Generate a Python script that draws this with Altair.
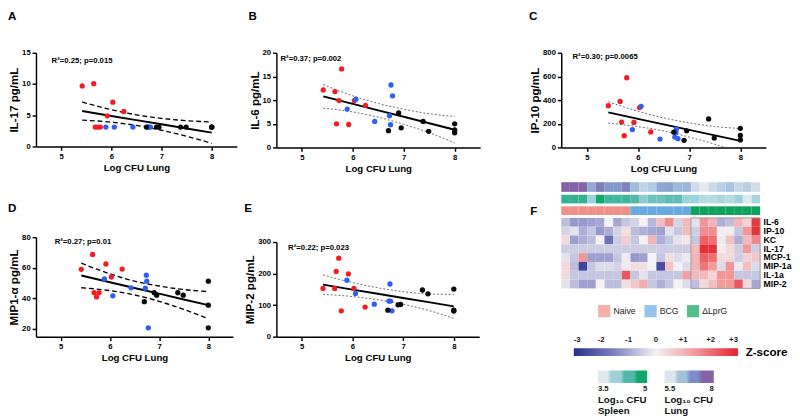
import altair as alt
import pandas as pd

FONT = "Liberation Sans"

# ---------------- scatter data: one entry per mouse ----------------
group = ["ΔLprG"] * 8 + ["BCG"] * 7 + ["Naive"] * 8
log_cfu_lung = [5.42, 5.65, 5.68, 5.73, 5.78, 5.92, 6.03, 6.25,
                5.89, 6.06, 6.43, 6.72, 6.74, 6.75, 6.78,
                6.70, 6.90, 6.95, 7.38, 7.49, 8.00, 8.00, 8.00]
il17 = [9.7, 10.05, 3.1, 3.1, 3.1, 4.9, 7.1, 5.6,
        3.1, 3.1, 3.1, 3.1, 3.1, 3.1, 3.1,
        3.1, 3.1, 3.1, 3.1, 3.1, 3.1, 3.1, 3.1]
il6 = [12.15, 11.8, 5.0, 9.9, 16.6, 4.85, 9.9, 8.9,
       8.1, 10.2, 5.5, 6.7, 4.8, 13.2, 10.9,
       3.55, 7.3, 4.15, 5.5, 3.4, 5.0, 3.7, 3.1]
ip10 = [353, 389, 214, 99, 589, 211, 337, 131,
        151, 348, 71, 88, 129, 156, 74,
        129, 60, 140, 241, 79, 162, 101, 63]
mip1a = [59, 68.75, 43.75, 41, 43.75, 62.5, 54, 59.2,
         52.7, 41.7, 46.9, 46.7, 55.2, 51.25, 20.8,
         37.9, 43.75, 42.1, 43.75, 42.1, 51.25, 35.6, 20.8]
mip2 = [153, 153, 207, 249, 82, 199, 153, 94,
        179, 137, 103, 113, 167, 113, 82,
        84, 101, 102, 148, 136, 151, 84, 81]

# regression line and 95% bands
fit_x = [5.42, 6.0, 6.5, 7.0, 7.5, 8.0]
a_fit = [5.67, 4.89, 4.22, 3.55, 2.88, 2.21]
a_hi = [7.12, 5.89, 5.07, 4.50, 4.13, 3.91]
a_lo = [4.22, 3.89, 3.37, 2.60, 1.63, 0.51]
b_fit = [10.8, 9.2, 7.84, 6.48, 5.12, 3.75]
b_hi = [13.3, 10.9, 9.29, 8.08, 7.12, 6.55]
b_lo = [8.3, 7.5, 6.39, 4.88, 3.12, 0.95]
c_fit = [296, 241, 195, 148, 102, 55]
c_hi = [386, 306, 250, 208, 177, 160]
c_lo = [206, 176, 140, 88, 27, -50]
d_fit = [55, 50.6, 46.8, 43.1, 39.3, 35.6]
d_hi = [63, 56.1, 51.3, 48.1, 45.8, 44.4]
d_lo = [47, 45.1, 42.3, 38.1, 32.8, 26.8]
e_fit = [165, 149.3, 136, 122.7, 109.4, 96]
e_hi = [196, 171.3, 155, 142.7, 135.4, 134]
e_lo = [134, 127.3, 117, 102.7, 83.4, 58]

# ---------------- heatmap data ----------------
hm_group = ["Naive"] * 8 + ["BCG"] * 7 + ["ΔLprG"] * 8
hm_lung = [8.0, 8.0, 8.0, 6.7, 7.5, 7.0, 7.0, 7.4,
           6.4, 5.9, 6.1, 6.75, 6.8, 6.45, 6.5,
           5.7, 5.4, 5.75, 6.0, 6.25, 5.8, 6.0, 5.7]
hm_spleen = [4.7, 4.7, 4.7, 4.0, 5.0, 4.6, 4.6, 4.6,
             4.5, 4.1, 4.3, 4.3, 4.4, 4.4, 4.0,
             4.0, 3.8, 3.8, 3.9, 3.8, 4.0, 3.5, 3.9]
hm_rows = ["IL-6", "IP-10", "KC", "IL-17", "MCP-1", "MIP-1a", "IL-1a", "MIP-2"]
z_il6 = [-0.7, -1.2, -1.2, -1.1, -1.0, 0.0, -1.0, -0.6, -0.4, 0.05, -0.8,
         0.8, 1.6, -0.4, 0.9, -0.2, 1.5, 1.0, -0.9, -0.7, 1.0, 0.5, 2.7]
z_ip10 = [-0.4, -0.2, -0.9, -0.6, -1.2, -0.9, -0.4, 0.3, -0.7, -0.9, -1.0,
          -1.1, -0.2, -0.6, 0.9, -0.5, 1.6, 1.6, 0.1, 0.1, -0.6, 1.5, 2.8]
z_kc = [0.4, -1.1, -0.9, -0.7, 0.0, -1.8, -0.5, 0.6, -0.6, 0.0, 1.0,
        -0.9, -0.6, -0.2, 0.2, -0.6, 2.2, 2.0, -0.1, 0.8, -0.9, 0.9, 1.7]
z_il17 = [-0.5] * 15 + [0.9, 2.8, 2.8, 0.1, 0.4, -0.5, 1.4, -0.5]
z_mcp1 = [-0.2, -0.6, 1.5, -1.1, -1.1, -1.1, -0.6, -0.1, -1.2, -1.1, 0.0,
          -0.6, 0.3, -0.3, -0.1, 1.0, 2.2, 2.0, 0.4, 0.4, -0.5, 0.5, 0.7]
z_mip1a = [0.4, -0.7, -2.6, -0.6, -0.3, -0.3, -0.4, -0.1, 0.3, 0.3, 0.0,
           -2.4, 0.7, 0.0, -0.3, 1.0, 1.9, 1.4, -0.3, 1.5, -0.1, 0.8, -0.3]
z_il1a = [0.4, -0.6, -0.6, -0.6, -0.6, -0.6, -0.6, 2.3, -0.6, -0.2, -0.6,
          -0.6, -0.6, -0.6, 1.3, 0.9, 0.9, 0.5, 1.5, 1.5, -0.6, -0.6, -0.6]
z_mip2 = [-0.2, -0.7, -1.1, -1.1, 0.0, -0.7, -0.7, 0.3, 0.7, 1.1, -0.6,
          -0.9, -0.6, 0.0, -0.3, -0.7, 0.4, 0.8, 1.4, 1.4, 2.3, 0.4, -1.0]
z_values = [z_il6, z_ip10, z_kc, z_il17, z_mcp1, z_mip1a, z_il1a, z_mip2]

group_order = ["Naive", "BCG", "ΔLprG"]
group_colors = ["#ef8f88", "#66abe0", "#0ea35a"]
lung_colors = ["#dde6ee", "#a3c0dd", "#7b8ec6", "#8561a7"]
spleen_colors = ["#dfe9ed", "#9dd2dc", "#4fb8ab", "#0fa76c"]
lung_breaks = [5.5, 6.125, 6.75, 7.375, 8.0]
spleen_breaks = [3.5, 3.875, 4.25, 4.625, 5.0]
z_colors = ["#262e8b", "#7f83c3", "#f4f2f4", "#f19597", "#e2232b"]
dot_colors = ["#f21d24", "#2c5ff2", "#0a0a0a"]


def letter(t, offset, dx=0):
    return alt.TitleParams(t, anchor="start", fontSize=12, fontWeight="bold",
                           font=FONT, color="black", offset=offset, dx=dx)


def panel(yvals, ytitle, ydom, yticks, fit, hi, lo, dashed, r2, r2x, r2y,
          let, toff, w, h):
    pts = pd.DataFrame({"x": log_cfu_lung, "y": yvals, "g": group})
    fdf = pd.DataFrame({"x": fit_x, "fit": fit, "hi": hi, "lo": lo})
    xs = alt.Scale(domain=[4.5, 8.5], nice=False, zero=False)
    ys = alt.Scale(domain=ydom, nice=False, zero=False)
    xax = alt.Axis(values=[5, 6, 7, 8], title="Log CFU Lung")
    yax = alt.Axis(values=yticks, title=ytitle)

    def X(f):
        return alt.X(f, scale=xs, axis=xax)

    def Y(f):
        return alt.Y(f, scale=ys, axis=yax)

    if dashed:
        ci = dict(color="black", strokeWidth=1.4, strokeDash=[5, 3])
    else:
        ci = dict(color="#555555", strokeWidth=0.9, strokeDash=[2, 2])
    hi_l = alt.Chart(fdf).mark_line(interpolate="monotone", clip=True, **ci).encode(x=X("x:Q"), y=Y("hi:Q"))
    lo_l = alt.Chart(fdf).mark_line(interpolate="monotone", clip=True, **ci).encode(x=X("x:Q"), y=Y("lo:Q"))
    fit_l = alt.Chart(fdf).mark_line(color="black", strokeWidth=2).encode(x=X("x:Q"), y=Y("fit:Q"))
    dots = alt.Chart(pts).mark_circle(size=30, opacity=1).encode(
        x=X("x:Q"), y=Y("y:Q"),
        color=alt.Color("g:N", scale=alt.Scale(domain=["ΔLprG", "BCG", "Naive"], range=dot_colors), legend=None))
    txt = alt.Chart(pd.DataFrame({"x": [r2x], "y": [r2y], "t": [r2]})).mark_text(
        align="left", baseline="middle", fontSize=8, fontWeight="bold", color="black", font=FONT
    ).encode(x=X("x:Q"), y=Y("y:Q"), text="t:N")
    return alt.layer(hi_l, lo_l, fit_l, dots, txt).properties(
        width=w, height=h, title=letter(let, toff))


A = panel(il17, "IL-17 pg/mL", [0, 15], [0, 5, 10, 15], a_fit, a_hi, a_lo, True,
          "R²=0.25; p=0.015", 4.81, 13.6, "A", 27, 208, 97)
B = panel(il6, "IL-6 pg/mL", [0, 20], [0, 5, 10, 15, 20], b_fit, b_hi, b_lo, False,
          "R²=0.37; p=0.002", 4.58, 18.6, "B", 27, 211, 98)
C = panel(ip10, "IP-10 pg/mL", [0, 800], [0, 200, 400, 600, 800], c_fit, c_hi, c_lo, False,
          "R²=0.30; p=0.0065", 4.72, 761, "C", 27, 212, 98)
D = panel(mip1a, "MIP1-α pg/mL", [15, 80], [20, 40, 60, 80], d_fit, d_hi, d_lo, True,
          "R²=0.27; p=0.01", 4.88, 76.9, "D", 19, 204, 103)
E = panel(mip2, "MIP-2 pg/mL", [0, 300], [0, 100, 200, 300], e_fit, e_hi, e_lo, False,
          "R²=0.22; p=0.023", 4.73, 280, "E", 24, 210, 98)

# ---------------- heatmap block ----------------
ncol = len(hm_group)
cols_df = pd.DataFrame({"c": list(range(ncol)), "hg": hm_group,
                        "lung": hm_lung, "spleen": hm_spleen})
HX = alt.X("c:Q", scale=alt.Scale(domain=[0, ncol], nice=False, zero=False), axis=None)
HW = 206


def strip(field, scale, h):
    return alt.Chart(cols_df).transform_calculate(c1="datum.c + 1").mark_rect().encode(
        x=HX, x2="c1:Q", color=alt.Color(field, scale=scale, legend=None)
    ).properties(width=HW, height=h)


lung_strip = strip("lung:Q", alt.Scale(domain=[5.5, 6.33, 7.17, 8], range=lung_colors, interpolate="rgb"), 10)
spleen_strip = strip("spleen:Q", alt.Scale(domain=[3.5, 4.0, 4.5, 5.0], range=spleen_colors, interpolate="rgb"), 9)
group_strip = strip("hg:N", alt.Scale(domain=group_order, range=group_colors), 9)

hm_records = []
for r, vals in zip(hm_rows, z_values):
    for i, v in enumerate(vals):
        hm_records.append({"cyt": r, "c": i, "z": v, "hg": hm_group[i]})
hm_df = pd.DataFrame(hm_records)
z_scale = alt.Scale(domain=[-3, -1.5, 0, 1.5, 3], range=z_colors, interpolate="rgb", clamp=True)

cells = alt.Chart(hm_df).transform_calculate(c1="datum.c + 1").mark_rect().encode(
    x=HX, x2="c1:Q",
    y=alt.Y("cyt:N", sort=hm_rows, scale=alt.Scale(paddingInner=0, paddingOuter=0),
            axis=alt.Axis(orient="right", title=None, ticks=False, domain=False,
                          labelFontSize=9, labelPadding=3, labelFontWeight="bold")),
    color=alt.Color("z:Q", scale=z_scale, legend=None))
box = alt.Chart(hm_df).transform_filter(alt.datum.hg == "ΔLprG").transform_calculate(
    c1="datum.c + 1").transform_aggregate(cmin="min(c)", cmax="max(c1)").mark_rect(
    fillOpacity=0, stroke="#9a9a9a", strokeWidth=1).encode(
    x=alt.X("cmin:Q", scale=alt.Scale(domain=[0, ncol], nice=False, zero=False), axis=None),
    x2="cmax:Q", y=alt.value(0), y2=alt.value("height"))
heat = alt.layer(cells, box).properties(width=HW, height=73, title=letter("F", 0, -32))

# legends hosted by empty layers
empty = pd.DataFrame({"g": pd.Series([], dtype=str), "z": pd.Series([], dtype=float),
                      "s": pd.Series([], dtype=float), "l": pd.Series([], dtype=float)})
leg_g = alt.Chart(empty).mark_square().encode(
    color=alt.Color("g:N", scale=alt.Scale(domain=group_order, range=group_colors),
                    legend=alt.Legend(orient="none", legendX=38, legendY=14, direction="horizontal",
                                      title=None, symbolType="square", symbolSize=160,
                                      symbolStrokeWidth=0, labelFontSize=9, labelColor="#222222",
                                      columnPadding=8, labelOffset=3)))
leg_z = alt.Chart(empty).mark_rect().encode(
    color=alt.Color("z:Q", scale=z_scale,
                    legend=alt.Legend(orient="none", legendX=13, legendY=59, direction="horizontal",
                                      gradientLength=170, gradientThickness=8,
                                      values=[-3, -2, -1, 0, 1, 2, 3],
                                      labelExpr="datum.value > 0 ? '+' + datum.value : (datum.value < 0 ? '-' + abs(datum.value) : '0')",
                                      labelOffset=alt.ExprRef(expr="-21"), labelFontSize=8,
                                      labelFontWeight="bold",
                                      labelColor="#222222", labelOverlap=False,
                                      title="Z-score", titleOrient="right", titleFontSize=12,
                                      titleFontWeight="bold", titlePadding=8, titleColor="black")))


def cfu_legend(field, br, colors, lx, title):
    dom = [br[0], br[1], br[1], br[2], br[2], br[3], br[3], br[4]]
    rng = [colors[0], colors[0], colors[1], colors[1], colors[2], colors[2], colors[3], colors[3]]
    return alt.Chart(empty).mark_rect().encode(
        color=alt.Color(field, scale=alt.Scale(domain=dom, range=rng, interpolate="rgb"),
                        legend=alt.Legend(orient="none", legendX=lx, legendY=82, direction="horizontal",
                                          gradientLength=51, gradientThickness=13,
                                          values=[br[0], br[4]], format=".1~f",
                                          labelFontSize=8, labelFontWeight="bold", labelColor="#222222",
                                          labelOverlap=False, title=title, titleOrient="bottom",
                                          titleAnchor="start", titleFontSize=10, titleFontWeight="bold",
                                          titleLineHeight=11, titlePadding=3, titleColor="#111111")))


leg_s = cfu_legend("s:Q", spleen_breaks, spleen_colors, 38, ["Log₁₀ CFU", "Spleen"])
leg_l = cfu_legend("l:Q", lung_breaks, lung_colors, 107, ["Log₁₀ CFU", "Lung"])
legends = alt.layer(leg_g, leg_z, leg_s, leg_l).resolve_scale(color="independent").resolve_legend(
    color="independent").properties(width=HW, height=1)

fblock = alt.vconcat(lung_strip, spleen_strip, group_strip, heat, legends, spacing=3,
                     bounds="flush").resolve_scale(color="independent")

col1 = alt.vconcat(A, D, spacing=94, bounds="flush").resolve_scale(color="independent")
col2 = alt.vconcat(B, E, spacing=98, bounds="flush").resolve_scale(color="independent")
col3 = alt.vconcat(C, fblock, spacing=36, bounds="flush").resolve_scale(color="independent")
left = alt.hconcat(col1, col2, spacing=7).resolve_scale(color="independent")

chart = alt.hconcat(left, col3, spacing=50).resolve_scale(color="independent").properties(
    padding={"top": -5, "left": 0, "right": 0, "bottom": 0}
).configure(font=FONT).configure_view(stroke=None).configure_axis(
    domainColor="black", domainWidth=1.5, tickColor="black", tickWidth=1.5, tickSize=4,
    labelColor="black", labelFontWeight="bold", labelFontSize=8, labelPadding=2,
    titleColor="black", titleFontWeight="bold", grid=False
).configure_axisX(titleFontSize=10, titlePadding=3).configure_axisY(titleFontSize=12, titlePadding=1)

chart.save("out.html", embed_options={"renderer": "svg", "actions": False})
